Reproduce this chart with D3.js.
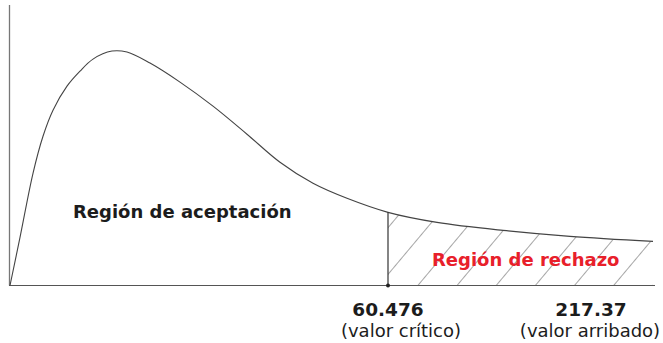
<!DOCTYPE html>
<html>
<head>
<meta charset="utf-8">
<script src="https://cdn.jsdelivr.net/npm/d3@7"></script>
<style>
  html, body { margin: 0; padding: 0; background: #fff; }
  svg { display: block; font-family: "DejaVu Sans", sans-serif; }
</style>
</head>
<body>
<svg id="chart" width="663" height="343"></svg>
<script>
// curve (x in arbitrary units, y = density height)
const curveX = [0, 10, 23, 33, 43, 57, 70, 83, 102, 117, 140, 170, 203, 237, 270, 303, 337, 378, 427, 493, 560, 643];
const curveY = [0, 48, 112, 149, 175, 199, 214, 226, 234, 233, 222, 203, 179, 151, 123, 102, 87, 73, 63, 55, 49, 44];

const criticalX = 378;
const valueLabels = ['60.476', '217.37'];
const valueNotes = ['(valor crítico)', '(valor arribado)'];
const labelX = [378, 581];
const noteX = [391, 580];

const svg = d3.select('#chart');

const x = d3.scaleLinear().domain([0, 645]).range([10, 655]);
const y = d3.scaleLinear().domain([0, 280]).range([285.5, 5]);

const pts = curveX.map((d, i) => ({ x: d, y: curveY[i] }));
const smooth = d3.curveCatmullRom.alpha(0.5);

// hatch pattern for the rejection region
const defs = svg.append('defs');
const pat = defs.append('pattern')
  .attr('id', 'hatch')
  .attr('patternUnits', 'userSpaceOnUse')
  .attr('width', 30)
  .attr('height', 10)
  .attr('patternTransform', 'translate(-9,0) rotate(40)');
pat.append('line')
  .attr('x1', 0).attr('y1', -5).attr('x2', 0).attr('y2', 15)
  .attr('stroke', '#808080').attr('stroke-width', 1.4);

const area = d3.area()
  .x(d => x(d.x))
  .y0(y(0))
  .y1(d => y(d.y))
  .curve(smooth);

svg.append('path')
  .datum(pts.filter(d => d.x >= criticalX))
  .attr('d', area)
  .attr('fill', 'url(#hatch)');

// axes
svg.append('line')
  .attr('x1', 9.5).attr('x2', 9.5)
  .attr('y1', 5).attr('y2', y(0))
  .attr('stroke', '#777').attr('stroke-width', 1.3);
svg.append('line')
  .attr('x1', 9).attr('x2', x(645))
  .attr('y1', y(0)).attr('y2', y(0))
  .attr('stroke', '#555').attr('stroke-width', 1.2);

// density curve
const line = d3.line()
  .x(d => x(d.x))
  .y(d => y(d.y))
  .curve(smooth);

svg.append('path')
  .datum(pts)
  .attr('d', line)
  .attr('fill', 'none')
  .attr('stroke', '#444')
  .attr('stroke-width', 1.1);

// critical value marker
const critY = curveY[curveX.indexOf(criticalX)];
svg.append('line')
  .attr('x1', x(criticalX)).attr('x2', x(criticalX))
  .attr('y1', y(0)).attr('y2', y(critY))
  .attr('stroke', '#333').attr('stroke-width', 1.2);
svg.append('circle')
  .attr('cx', x(criticalX)).attr('cy', y(0))
  .attr('r', 2).attr('fill', '#222');

// region labels
svg.append('text')
  .attr('x', 73).attr('y', 218)
  .attr('font-size', 18).attr('font-weight', 'bold')
  .attr('fill', '#1c1c1c')
  .text('Región de aceptación');

svg.append('text')
  .attr('x', 432).attr('y', 266)
  .attr('font-size', 18).attr('font-weight', 'bold')
  .attr('fill', '#e8202a')
  .text('Región de rechazo');

// value labels under the axis
svg.selectAll('.val')
  .data(valueLabels)
  .join('text')
  .attr('class', 'val')
  .attr('x', (d, i) => x(labelX[i]))
  .attr('y', 316)
  .attr('text-anchor', 'middle')
  .attr('font-size', 18.5).attr('font-weight', 'bold')
  .attr('fill', '#1c1c1c')
  .text(d => d);

svg.selectAll('.note')
  .data(valueNotes)
  .join('text')
  .attr('class', 'note')
  .attr('x', (d, i) => x(noteX[i]))
  .attr('y', 337)
  .attr('text-anchor', 'middle')
  .attr('font-size', 18)
  .attr('fill', '#1c1c1c')
  .text(d => d);
</script>
</body>
</html>
